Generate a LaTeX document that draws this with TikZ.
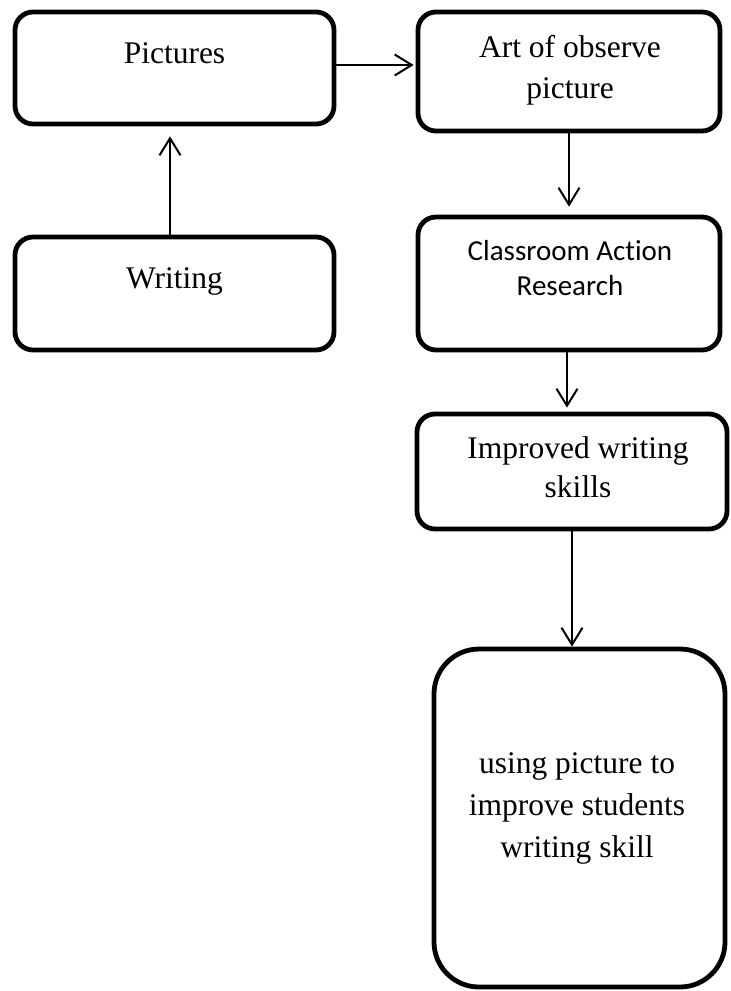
\documentclass[tikz,border=0pt]{standalone}
\usepackage{fontspec}
\setmainfont{Liberation Serif}
\newfontfamily\calfont[Ligatures=CommonOff]{Carlito}
\usetikzlibrary{arrows.meta,calc}
\begin{document}
\begin{tikzpicture}[x=1pt,y=-1pt,
  box/.style={draw, line width=4.8pt, rounded corners=18pt, inner sep=0pt},
  arr/.style={line width=2pt, -{Straight Barb[length=17pt,width=21pt,line width=2pt]}},
  txt/.style={font=\fontsize{31.5}{40}\selectfont, align=center, inner sep=0pt, anchor=base}]
\useasboundingbox (0,0) rectangle (731,991);
% boxes
\node[box, minimum width=319pt, minimum height=112pt] (pic) at (174.5,68) {};
\node[box, minimum width=302pt, minimum height=119pt] (art) at (569,71.5) {};
\node[box, minimum width=319pt, minimum height=113pt] (wri) at (174.5,293.5) {};
\node[box, minimum width=302pt, minimum height=133pt] (cls) at (569,283.5) {};
\node[box, minimum width=310pt, minimum height=115pt] (imp) at (572,471.5) {};
\node[box, rounded corners=45pt, minimum width=291pt, minimum height=338pt] (use) at (579.5,818) {};
% texts (base anchor = baseline of the last line)
\node[txt] (tpic) at (174.5,63) {Pictures};
\node[txt, font=\fontsize{31.5}{41}\selectfont] (tart) at (570,98) {Art of observe\\picture};
\node[txt] (twri) at (174.5,288) {Writing};
\node[txt, font=\calfont\fontsize{29}{35}\selectfont] (tcls) at (570,295) {Classroom Action\\Research};
\node[txt, font=\fontsize{31.5}{39}\selectfont] (timp) at (578,497) {Improved writing\\skills};
\node[txt, font=\fontsize{31.5}{42}\selectfont] (tuse) at (577,857) {using picture to\\improve students\\writing skill};
% connectors
\draw[arr, shorten >=2pt] ([yshift=3pt]pic.east) -- ([yshift=3pt]pic.east -| art.west);
\draw[arr, shorten >=10pt] ([xshift=-4.5pt]wri.north) -- ([xshift=-4.5pt]wri.north |- pic.south);
\draw[arr, shorten >=8pt] (art.south) -- (art.south |- cls.north);
\draw[arr, shorten >=4pt] ([xshift=-2pt]cls.south) -- ([xshift=-2pt]cls.south |- imp.north);
\draw[arr] (imp.south) -- (imp.south |- use.north);
\end{tikzpicture}
\end{document}
